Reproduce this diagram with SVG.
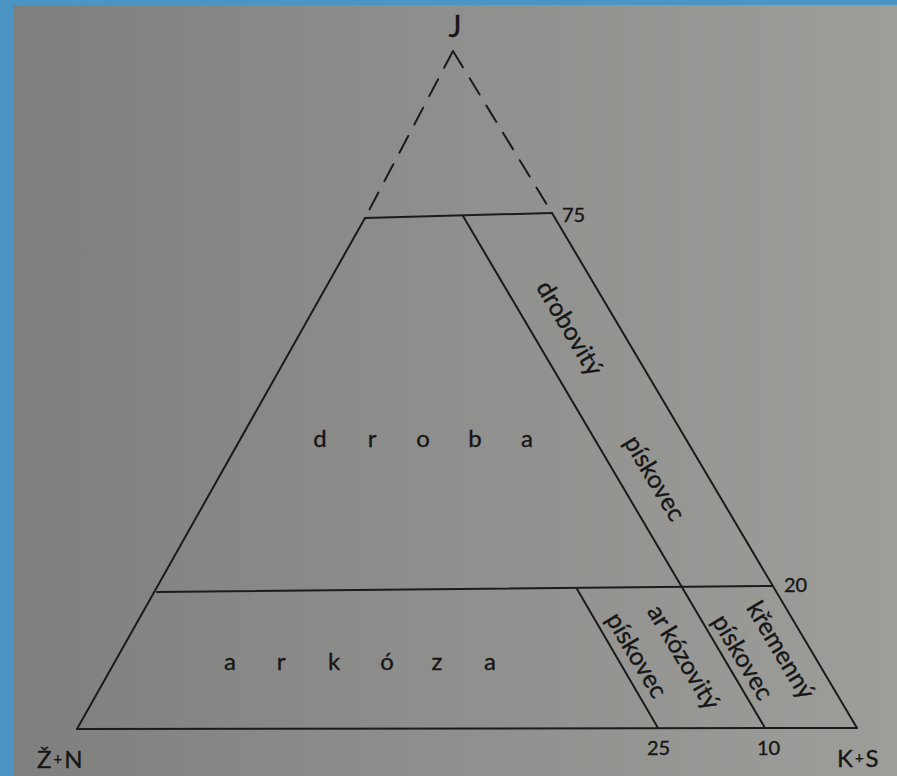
<svg xmlns="http://www.w3.org/2000/svg" width="897" height="776" viewBox="0 0 897 776">
  <defs>
    <linearGradient id="paper" x1="0" y1="0" x2="1" y2="0">
      <stop offset="0" stop-color="#7f807e"/>
      <stop offset="0.5" stop-color="#8f908d"/>
      <stop offset="1" stop-color="#9d9e9a"/>
    </linearGradient>
    <style>
      .ln { stroke: #1b1b1b; stroke-width: 2; fill: none; stroke-linecap: round; stroke-linejoin: miter; }
      .dash { stroke-dasharray: 19 13; }
      .t { font-family: Lato, "Open Sans", "DejaVu Sans", sans-serif; fill: #161616; stroke: #161616; stroke-width: 0.35; }
      .big { font-size: 24px; }
      .lbl { font-size: 25px; }
      .num { font-size: 20px; }
      .corner { font-size: 24px; }
    </style>
  </defs>

  <!-- background: blue surround and grey page -->
  <rect x="0" y="0" width="897" height="776" fill="#4b95c4"/>
  <rect x="13" y="5" width="884" height="771" fill="url(#paper)"/>

  <!-- diagram lines -->
  <g id="lines">
    <path id="top-dashed" class="ln dash" d="M453 51 L365 218 M453 51 L552 213"/>
    <path id="left-side" class="ln" d="M365 218 L77 729"/>
    <path id="right-side" class="ln" d="M552 213 L857 728"/>
    <path id="base" class="ln" d="M77 729 L857 728"/>
    <path id="line-75" class="ln" d="M365 218 L552 213"/>
    <path id="line-20" class="ln" d="M157 592 L772 586"/>
    <path id="line-10" class="ln" d="M463 216 L765 728"/>
    <path id="line-25" class="ln" d="M577 589 L658 728"/>
  </g>

  <!-- corner labels -->
  <g id="vertex-J"><text class="t" x="455" y="37" font-size="31" text-anchor="middle">J</text></g>
  <g id="vertex-ZN"><text class="t corner" x="37" y="768">Ž<tspan font-size="15" dx="2" dy="-4">+</tspan><tspan dx="2" dy="4">N</tspan></text></g>
  <g id="vertex-KS"><text class="t corner" x="837" y="767">K<tspan font-size="15" dx="2" dy="-4">+</tspan><tspan dx="2" dy="4">S</tspan></text></g>

  <!-- numbers -->
  <g id="numbers">
    <text class="t num" x="562" y="222">75</text>
    <text class="t num" x="784" y="592">20</text>
    <text class="t num" x="647" y="755">25</text>
    <text class="t num" x="757" y="755">10</text>
  </g>

  <!-- field labels -->
  <g id="field-droba">
    <text class="t big" x="320 372 423 475 527" y="447" text-anchor="middle">droba</text>
  </g>
  <g id="field-arkoza">
    <text class="t big" x="230 281 334 387 437 490" y="670" text-anchor="middle">arkóza</text>
  </g>
  <g id="field-drobovity">
    <text class="t lbl" transform="translate(570 328) rotate(59.2)" text-anchor="middle" dy="0.35em">drobovitý</text>
    <text class="t lbl" transform="translate(655 478) rotate(59.2)" text-anchor="middle" dy="0.35em">pískovec</text>
  </g>
  <g id="field-arkozovity">
    <text class="t lbl" transform="translate(684 657) rotate(59.2)" text-anchor="middle" dy="0.35em">ar<tspan dx="4">kózovitý</tspan></text>
    <text class="t lbl" transform="translate(637 655) rotate(59.2)" text-anchor="middle" dy="0.35em">pískovec</text>
  </g>
  <g id="field-kremenny">
    <text class="t lbl" transform="translate(781 650) rotate(59.2)" text-anchor="middle" dy="0.35em">křemenný</text>
    <text class="t lbl" transform="translate(743 657) rotate(59.2)" text-anchor="middle" dy="0.35em">pískovec</text>
  </g>
</svg>
